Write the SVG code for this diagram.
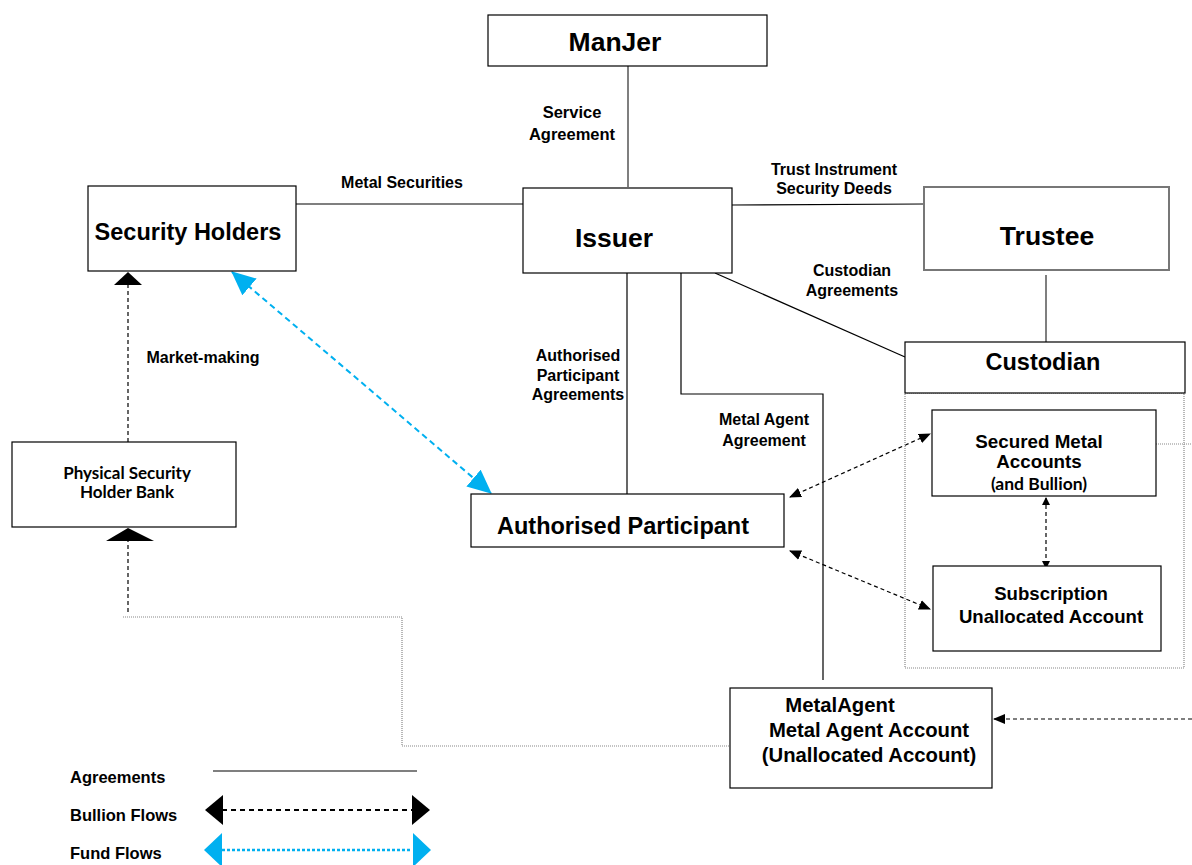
<svg xmlns="http://www.w3.org/2000/svg" width="1192" height="865" viewBox="0 0 1192 865">
<defs>
<style>
.box{fill:#fff;stroke:#000;stroke-width:1.2}
.gbox{fill:#fff;stroke:#777;stroke-width:2}
.t{font-family:"Liberation Sans",Arial,sans-serif;font-weight:bold;fill:#000;text-anchor:middle}
.l{font-family:"Liberation Sans",Arial,sans-serif;font-weight:bold;fill:#000;text-anchor:start}
.c{font-family:Lato,"Open Sans",sans-serif;font-weight:bold;fill:#000;text-anchor:middle}
.ag{stroke:#000;stroke-width:1.2;fill:none}
.gag{stroke:#555;stroke-width:1.5;fill:none}
.dot{stroke:#888;stroke-width:1.2;stroke-dasharray:1,1;fill:none}
.dash{stroke:#000;stroke-width:1.2;stroke-dasharray:4,3;fill:none}
.blue{stroke:#00B0F0;stroke-width:2;stroke-dasharray:6,4;fill:none}
</style>
<marker id="ah" viewBox="0 0 12 10" refX="11" refY="5" markerWidth="12" markerHeight="10" markerUnits="userSpaceOnUse" orient="auto-start-reverse"><path d="M0,0 L12,5 L0,10 Z" fill="#000"/></marker>
<marker id="ahs" viewBox="0 0 8 8" refX="7" refY="4" markerWidth="8" markerHeight="8" markerUnits="userSpaceOnUse" orient="auto-start-reverse"><path d="M0,0 L8,4 L0,8 Z" fill="#000"/></marker>
<marker id="bh" viewBox="0 0 24 22" refX="23" refY="11" markerWidth="24" markerHeight="22" markerUnits="userSpaceOnUse" orient="auto-start-reverse"><path d="M0,0 L24,11 L0,22 Z" fill="#00B0F0"/></marker>
</defs>

<g id="connectors">
<line class="gag" x1="628" y1="66" x2="628" y2="187"/>
<line class="ag" x1="296" y1="204" x2="523" y2="204"/>
<line class="ag" x1="732" y1="205" x2="923" y2="204"/>
<line class="gag" x1="1046" y1="275" x2="1046" y2="342"/>
<line class="ag" x1="715" y1="273" x2="905" y2="357"/>
<line class="ag" x1="627" y1="273" x2="627" y2="494"/>
<polyline class="ag" points="681,273 681,394 823,394 823,680"/>
<line class="dash" x1="790" y1="497" x2="930" y2="434" marker-start="url(#ah)" marker-end="url(#ah)"/>
<line class="dash" x1="790" y1="551" x2="930" y2="609" marker-start="url(#ah)" marker-end="url(#ah)"/>
<line class="dash" x1="1046" y1="498" x2="1046" y2="568" stroke-dasharray="2,2" marker-start="url(#ahs)" marker-end="url(#ahs)"/>
<line class="dot" x1="1156" y1="444" x2="1192" y2="444"/>
<line class="dash" x1="1192" y1="719" x2="994" y2="719" marker-end="url(#ah)"/>
<line class="dash" x1="128" y1="442" x2="128" y2="285"/>
<path d="M114,285 L128,272 L142,285 Z" fill="#000"/>
<line class="dash" x1="128" y1="612" x2="128" y2="541"/>
<path d="M106,541 L128,528 L154,541 Z" fill="#000"/>
<polyline class="dot" points="123,617 402,617 402,746 730,746"/>
<line class="blue" x1="232" y1="272" x2="491" y2="493" marker-start="url(#bh)" marker-end="url(#bh)"/>
</g>

<g id="labels">
<text class="t" font-size="16.5" x="572" y="118">Service</text>
<text class="t" font-size="16.5" x="572" y="140">Agreement</text>
<text class="t" font-size="16" x="402" y="188">Metal Securities</text>
<text class="t" font-size="16" x="834" y="175">Trust Instrument</text>
<text class="t" font-size="16" x="834" y="194">Security Deeds</text>
<text class="t" font-size="16" x="852" y="276">Custodian</text>
<text class="t" font-size="16" x="852" y="296">Agreements</text>
<text class="t" font-size="16" x="578" y="361">Authorised</text>
<text class="t" font-size="16" x="578" y="381">Participant</text>
<text class="t" font-size="16" x="578" y="400">Agreements</text>
<text class="t" font-size="16" x="764" y="425">Metal Agent</text>
<text class="t" font-size="16" x="764" y="446">Agreement</text>
<text class="t" font-size="16" x="203" y="363">Market-making</text>
</g>

<g id="manjer"><rect class="box" x="488" y="15" width="279" height="51"/><text class="t" font-size="26.5" x="615" y="51">ManJer</text></g>
<g id="security-holders"><rect class="box" x="88" y="186" width="208" height="85"/><text class="t" font-size="23.5" x="188" y="240">Security Holders</text></g>
<g id="issuer"><rect class="box" x="523" y="188" width="209" height="85"/><text class="t" font-size="26.5" x="614" y="247">Issuer</text></g>
<g id="trustee"><rect class="gbox" x="924" y="187" width="245" height="83"/><text class="t" font-size="26.5" x="1047" y="245">Trustee</text></g>
<g id="custodian">
<rect class="dot" x="905" y="393" width="279" height="275"/>
<rect class="box" x="905" y="342" width="280" height="51"/><text class="t" font-size="23.5" x="1043" y="370">Custodian</text>
</g>
<g id="secured-metal"><rect class="box" x="932" y="410" width="224" height="86"/>
<text class="t" font-size="18.8" x="1039" y="448">Secured Metal</text>
<text class="t" font-size="18.8" x="1039" y="468">Accounts</text>
<text class="c" font-size="17.5" x="1039" y="490">(and Bullion)</text></g>
<g id="subscription"><rect class="box" x="933" y="566" width="228" height="85"/>
<text class="t" font-size="18.6" x="1051" y="600">Subscription</text>
<text class="t" font-size="18.6" x="1051" y="623">Unallocated Account</text></g>
<g id="authorised-participant"><rect class="box" x="471" y="494" width="313" height="53"/><text class="t" font-size="23.5" x="623" y="534">Authorised Participant</text></g>
<g id="physical-bank"><rect class="box" x="12" y="442" width="224" height="85"/>
<text class="c" font-size="17" x="127" y="479">Physical Security</text>
<text class="c" font-size="17" x="127" y="498">Holder Bank</text></g>
<g id="metal-agent"><rect class="box" x="730" y="688" width="262" height="100"/>
<text class="t" font-size="20.3" x="840" y="712">MetalAgent</text>
<text class="t" font-size="20.3" x="869" y="737">Metal Agent Account</text>
<text class="t" font-size="20.3" x="869" y="762">(Unallocated Account)</text></g>

<g id="legend">
<text class="l" font-size="16.5" x="70" y="783">Agreements</text>
<line class="ag" x1="213" y1="771" x2="417" y2="771"/>
<text class="l" font-size="16.5" x="70" y="821">Bullion Flows</text>
<line stroke="#000" stroke-width="2" stroke-dasharray="5,4" x1="222" y1="810" x2="412" y2="810"/>
<path d="M223,795 L205,810 L223,825 Z" fill="#000"/>
<path d="M412,795 L430,810 L412,825 Z" fill="#000"/>
<text class="l" font-size="16.5" x="70" y="859">Fund Flows</text>
<line stroke="#00B0F0" stroke-width="2.5" stroke-dasharray="3,2" x1="222" y1="850" x2="412" y2="850"/>
<path d="M222,833 L204,850 L222,867 Z" fill="#00B0F0"/>
<path d="M413,833 L431,850 L413,867 Z" fill="#00B0F0"/>
</g>
</svg>
